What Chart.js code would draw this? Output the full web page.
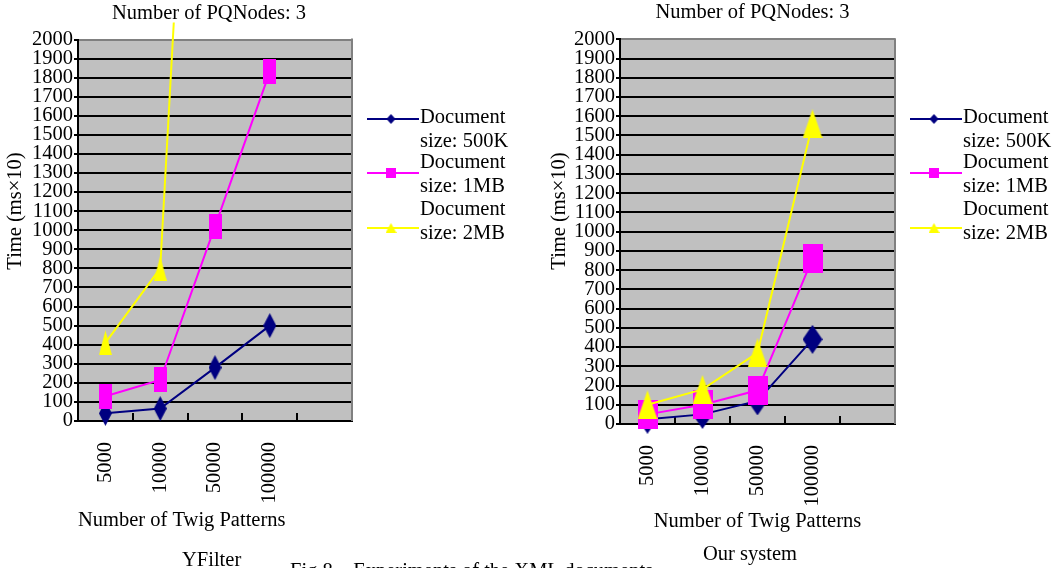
<!DOCTYPE html>
<html>
<head>
<meta charset="utf-8">
<script src="https://cdn.jsdelivr.net/npm/chart.js@4.4.0/dist/chart.umd.min.js"></script>
<style>
    html, body { margin: 0; padding: 0; background: #fff; }
    body { width: 1060px; height: 568px; position: relative; overflow: hidden; font-family: 'Liberation Serif', 'Times New Roman', serif; }
    .box { position: absolute; top: 0; width: 530px; height: 568px; }
    .cap { position: absolute; font-size: 20.5px; line-height: 20px; white-space: nowrap; color: #000; }
</style>
</head>
<body>
<div class="box" style="left:0"><canvas id="yfilter" width="530" height="568"></canvas></div>
<div class="box" style="left:530px"><canvas id="oursystem" width="530" height="568"></canvas></div>
<div class="cap" style="left:182px; top:549px">YFilter</div>
<div class="cap" style="left:703px; top:543px">Our system</div>
<div class="cap" style="left:290px; top:560px">Fig.8&nbsp;&nbsp;&nbsp; Experiments of the XML documents</div>

<script>
// categories and series
const patternCounts = ['5000', '10000', '50000', '100000', ''];
const seriesLabels = [['Document', 'size: 500K'], ['Document', 'size: 1MB'], ['Document', 'size: 2MB']];
const seriesColors = ['#000080', '#ff00ff', '#ffff00'];
const markerShapes = ['diamond', 'square', 'triangle'];

// YFilter (time, ms x 10)
const yfilter500K = [40, 65, 280, 500];
const yfilter1MB = [130, 215, 1020, 1830];
const yfilter2MB = [410, 800, 6000, 11000];

// Our system (time, ms x 10)
const ours500K = [25, 50, 120, 440];
const ours1MB = [50, 100, 175, 860];
const ours2MB = [100, 180, 370, 1560];

const yMax = 2000;
const yStep = 100;

const serif = "'Liberation Serif', 'Times New Roman', serif";
const font20 = { family: serif, size: 20.5 };

function makeMarker(shape, w, h, color) {
    const c = document.createElement('canvas');
    c.width = w;
    c.height = h;
    const g = c.getContext('2d');
    g.fillStyle = color;
    g.beginPath();
    if (shape === 'diamond') {
        g.moveTo(w / 2, 0); g.lineTo(w, h / 2); g.lineTo(w / 2, h); g.lineTo(0, h / 2);
    } else if (shape === 'square') {
        g.rect(0, 0, w, h);
    } else {
        g.moveTo(w / 2, 0); g.lineTo(w, h); g.lineTo(0, h);
    }
    g.closePath();
    g.fill();
    return c;
}

const legendMarkers = [
    makeMarker('diamond', 9, 10, seriesColors[0]),
    makeMarker('square', 10, 10, seriesColors[1]),
    makeMarker('triangle', 11, 10, seriesColors[2])
];

// plot background, right border, titles and the legend
const framePlugin = {
    id: 'frame',
    beforeDraw(chart) {
        const { ctx, chartArea: a } = chart;
        ctx.save();
        ctx.fillStyle = '#c0c0c0';
        ctx.fillRect(a.left, a.top, a.right - a.left, a.bottom - a.top);
        ctx.restore();
    },
    beforeDatasetsDraw(chart) {
        const { ctx, chartArea: a } = chart;
        ctx.save();
        ctx.strokeStyle = '#808080';
        ctx.lineWidth = 2;
        ctx.beginPath();
        ctx.moveTo(a.right, a.top - 1);
        ctx.lineTo(a.right, a.bottom);
        ctx.stroke();
        ctx.restore();
    },
    afterDraw(chart, args, opts) {
        const { ctx, chartArea: a } = chart;
        ctx.save();
        ctx.fillStyle = '#000';
        ctx.font = '20.5px ' + serif;
        ctx.textBaseline = 'middle';
        ctx.textAlign = 'center';
        ctx.fillText(opts.title, opts.titleX, opts.titleY);

        ctx.save();
        ctx.translate(opts.yTitleX, opts.yTitleY);
        ctx.rotate(-Math.PI / 2);
        ctx.fillText(opts.yTitle, 0, 0);
        ctx.restore();

        ctx.textAlign = 'left';
        chart.data.datasets.forEach((ds, i) => {
            const ly = opts.legendLineY[i];
            const ty = opts.legendTextY[i];
            const x0 = a.right + 15;
            ctx.strokeStyle = ds.borderColor;
            ctx.lineWidth = 2;
            ctx.beginPath();
            ctx.moveTo(x0, ly);
            ctx.lineTo(x0 + 52, ly);
            ctx.stroke();
            const m = legendMarkers[i];
            ctx.drawImage(m, x0 + 24 - m.width / 2, ly - m.height / 2);
            seriesLabels[i].forEach((t, k) => ctx.fillText(t, x0 + 53, ty + k * 23.5));
        });
        ctx.restore();
    }
};

function buildChart(canvasId, values, look) {
    const datasets = values.map((v, i) => ({
        label: seriesLabels[i].join(' '),
        data: v,
        borderColor: seriesColors[i],
        backgroundColor: seriesColors[i],
        borderWidth: 2,
        tension: 0,
        pointStyle: makeMarker(markerShapes[i], look.marker[0], look.marker[1], seriesColors[i]),
        pointRadius: 12,
        order: 3 - i,
        clip: { left: 15, top: look.clipTop, right: 15, bottom: 15 }
    }));

    return new Chart(document.getElementById(canvasId), {
        type: 'line',
        data: { labels: patternCounts, datasets: datasets },
        options: {
            responsive: false,
            animation: false,
            events: [],
            layout: { padding: look.padding },
            plugins: {
                legend: { display: false },
                title: { display: false },
                tooltip: { enabled: false },
                frame: look.frame
            },
            scales: {
                x: {
                    offset: true,
                    grid: {
                        offset: true,
                        drawOnChartArea: false,
                        drawTicks: true,
                        tickLength: -8,
                        color: '#000',
                        lineWidth: 2
                    },
                    border: { color: '#000', width: 2 },
                    ticks: {
                        minRotation: 90,
                        maxRotation: 90,
                        autoSkip: false,
                        padding: 29,
                        color: '#000',
                        font: font20
                    },
                    title: {
                        display: true,
                        text: 'Number of Twig Patterns',
                        align: look.xTitleAlign,
                        color: '#000',
                        font: font20,
                        padding: { top: 0, bottom: look.xTitlePad }
                    },
                    afterFit: s => { s.height = look.xHeight; }
                },
                y: {
                    min: 0,
                    max: yMax,
                    ticks: {
                        stepSize: yStep,
                        autoSkip: false,
                        padding: 1,
                        color: '#000',
                        font: font20,
                        callback: v => String(v)
                    },
                    grid: {
                        color: c => (c.tick && c.tick.value === yMax) ? '#808080' : '#000',
                        tickColor: '#000',
                        lineWidth: 2,
                        tickLength: 4
                    },
                    border: { color: '#000', width: 2 },
                    afterFit: s => { s.width = look.yWidth; }
                }
            }
        },
        plugins: [framePlugin]
    });
}

buildChart('yfilter', [yfilter500K, yfilter1MB, yfilter2MB], {
    marker: [13, 25],
    clipTop: 17,
    padding: { top: 39.5, right: 178, bottom: 16, left: 0 },
    xTitleAlign: 'start',
    xTitlePad: 19,
    xHeight: 131,
    yWidth: 78,
    frame: {
        title: 'Number of PQNodes: 3', titleX: 209, titleY: 13.5,
        yTitle: 'Time (ms\u00d710)', yTitleX: 15.5, yTitleY: 211,
        legendLineY: [119, 173, 228], legendTextY: [118, 163, 210]
    }
});

buildChart('oursystem', [ours500K, ours1MB, ours2MB], {
    marker: [20, 29],
    clipTop: 5,
    padding: { top: 39.3, right: 165, bottom: 22, left: 0 },
    xTitleAlign: 'center',
    xTitlePad: 12.5,
    xHeight: 122,
    yWidth: 90,
    frame: {
        title: 'Number of PQNodes: 3', titleX: 222.5, titleY: 13,
        yTitle: 'Time (ms\u00d710)', yTitleX: 29.5, yTitleY: 211,
        legendLineY: [119, 173, 228], legendTextY: [118, 163, 210]
    }
});
</script>
</body>
</html>
